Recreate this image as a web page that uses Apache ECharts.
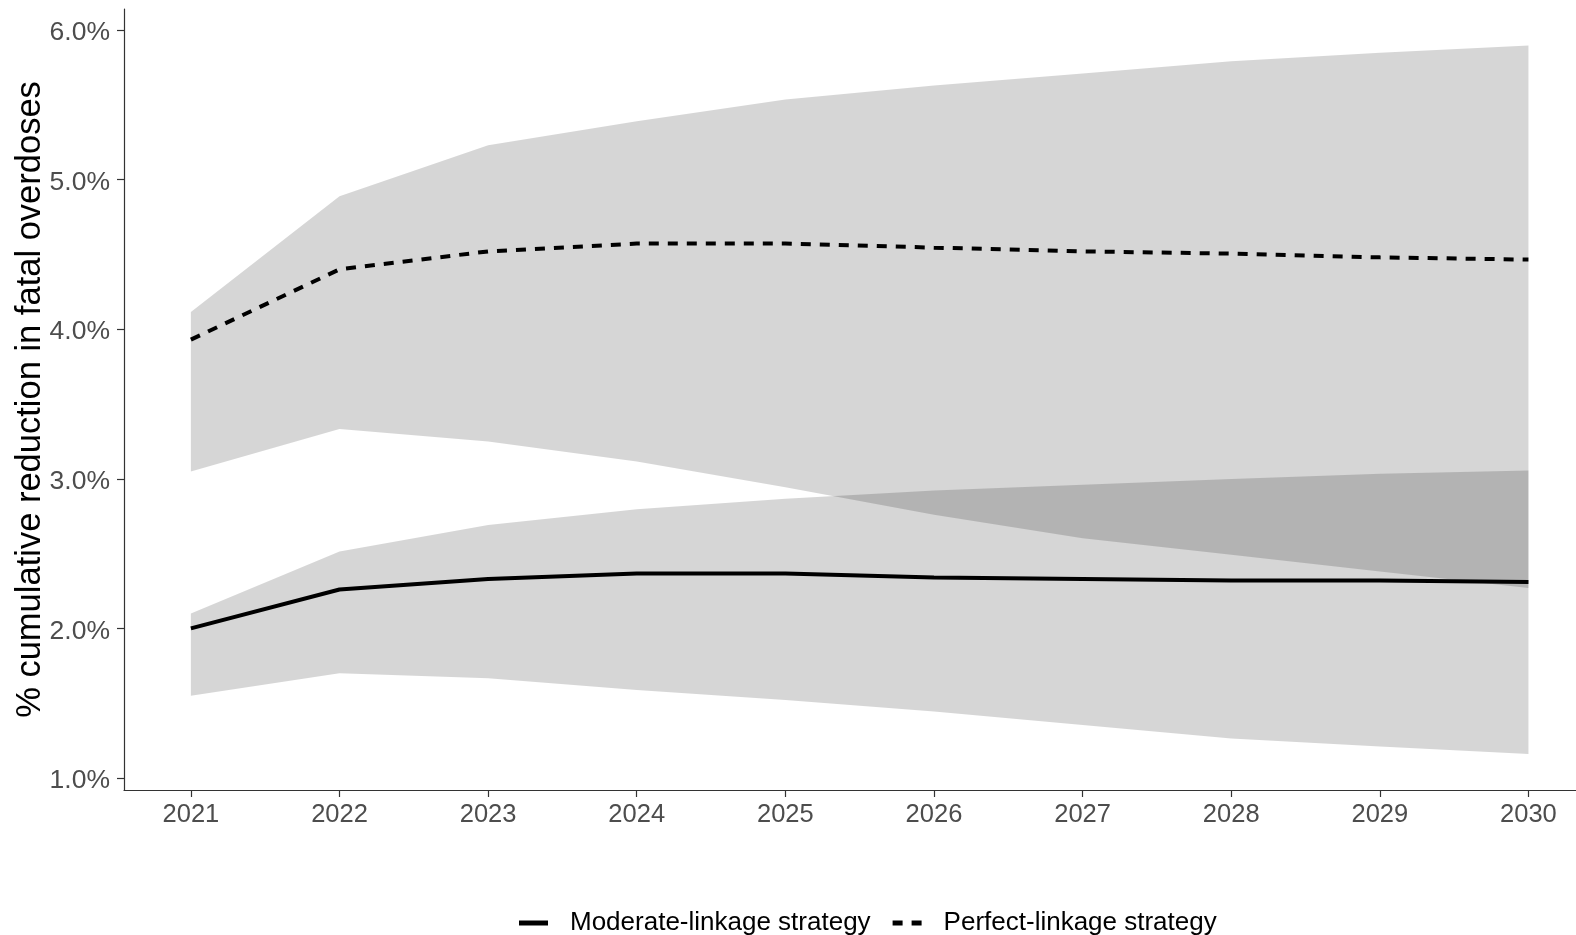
<!DOCTYPE html>
<html>
<head>
<meta charset="utf-8">
<script src="https://cdn.jsdelivr.net/npm/echarts@6/dist/echarts.min.js"></script>
<style>
  html, body { margin: 0; padding: 0; background: #fff; }
  #chart { width: 1576px; height: 935px; }
</style>
</head>
<body>
<div id="chart"></div>
<script>
// ---- Data (values in %) ----
const years = [2021, 2022, 2023, 2024, 2025, 2026, 2027, 2028, 2029, 2030];

const moderateMean  = [2.00, 2.26, 2.33, 2.367, 2.367, 2.34, 2.33, 2.32, 2.32, 2.31];
const moderateLower = [1.55, 1.70, 1.667, 1.589, 1.522, 1.444, 1.355, 1.265, 1.21, 1.16];
const moderateUpper = [2.10, 2.514, 2.692, 2.797, 2.866, 2.922, 2.96, 2.998, 3.033, 3.056];

const perfectMean  = [3.93, 4.40, 4.52, 4.572, 4.572, 4.545, 4.52, 4.505, 4.48, 4.465];
const perfectLower = [3.049, 3.332, 3.25, 3.116, 2.944, 2.759, 2.603, 2.492, 2.38, 2.27];
const perfectUpper = [4.115, 4.888, 5.229, 5.39, 5.535, 5.629, 5.709, 5.791, 5.847, 5.896];

const yTicks = [1, 2, 3, 4, 5, 6];
const xTicks = years;

const seriesNames = ['Moderate-linkage strategy', 'Perfect-linkage strategy'];
const yTitle = '% cumulative reduction in fatal overdoses';

// ---- Chart ----
const FONT = "'Liberation Sans', Arial, Helvetica, sans-serif";
const chart = echarts.init(document.getElementById('chart'), null, { renderer: 'canvas' });

function bandSeries(lower, upper) {
  return {
    type: 'custom',
    silent: true,
    data: years.map((x, i) => [x, lower[i], upper[i]]),
    encode: { x: 0, y: [1, 2] },
    renderItem: function (params, api) {
      if (params.dataIndex !== 0) return null;
      const pts = [];
      for (let i = 0; i < years.length; i++) pts.push(api.coord([years[i], upper[i]]));
      for (let i = years.length - 1; i >= 0; i--) pts.push(api.coord([years[i], lower[i]]));
      return {
        type: 'polygon',
        shape: { points: pts },
        style: { fill: 'rgba(0,0,0,0.16)', stroke: null }
      };
    },
    z: 1
  };
}

const option = {
  animation: false,
  backgroundColor: '#ffffff',
  grid: { left: 124, right: 0, top: 9, bottom: 145, containLabel: false, outerBoundsMode: 'none' },
  xAxis: {
    type: 'value',
    min: 2020.55,
    max: 2030.32,
    splitLine: { show: false },
    axisLine: { show: true, lineStyle: { color: '#333333', width: 1.2 } },
    axisTick: { show: true, customValues: xTicks, length: 7, lineStyle: { color: '#333333', width: 1.2 } },
    axisLabel: {
      customValues: xTicks,
      margin: 12,
      color: '#4d4d4d',
      fontSize: 25.5,
      fontFamily: FONT,
      formatter: v => String(Math.round(v))
    }
  },
  yAxis: {
    type: 'value',
    min: 0.92,
    max: 6.14,
    splitLine: { show: false },
    axisLine: { show: true, lineStyle: { color: '#333333', width: 1.2 } },
    axisTick: { show: true, customValues: yTicks, length: 7, lineStyle: { color: '#333333', width: 1.2 } },
    axisLabel: {
      customValues: yTicks,
      margin: 14,
      formatter: v => '{t|' + v.toFixed(1) + '%}',
      rich: {
        t: { color: '#4d4d4d', fontSize: 26.5, fontFamily: FONT, padding: [6, 0, 0, 0] }
      }
    },
    name: yTitle,
    nameLocation: 'middle',
    nameGap: 76,
    nameRotate: 90,
    nameMoveOverlap: false,
    nameTextStyle: { color: '#000', fontSize: 34.5, fontFamily: FONT }
  },
  legend: {
    data: [
      { name: seriesNames[0], icon: 'path://M0,0H29V5H0Z' },
      { name: seriesNames[1], icon: 'path://M0,0H10V5H0Z M19,0H29V5H19Z' }
    ],
    left: 519,
    top: 910,
    itemWidth: 29,
    itemHeight: 28,
    itemGap: 22,
    padding: 0,
    itemStyle: { color: '#000' },
    textStyle: { color: '#000', fontSize: 26, fontFamily: FONT, padding: [0, 0, 0, 17] }
  },
  series: [
    bandSeries(moderateLower, moderateUpper),
    bandSeries(perfectLower, perfectUpper),
    {
      name: seriesNames[0],
      type: 'line',
      data: years.map((x, i) => [x, moderateMean[i]]),
      symbol: 'none',
      lineStyle: { color: '#000', width: 4, type: 'solid' },
      itemStyle: { color: '#000' },
      z: 3
    },
    {
      name: seriesNames[1],
      type: 'line',
      data: years.map((x, i) => [x, perfectMean[i]]),
      symbol: 'none',
      lineStyle: { color: '#000', width: 4, type: [10, 9], cap: 'butt' },
      itemStyle: { color: '#000' },
      z: 3
    }
  ]
};
chart.setOption(option);
</script>
</body>
</html>
